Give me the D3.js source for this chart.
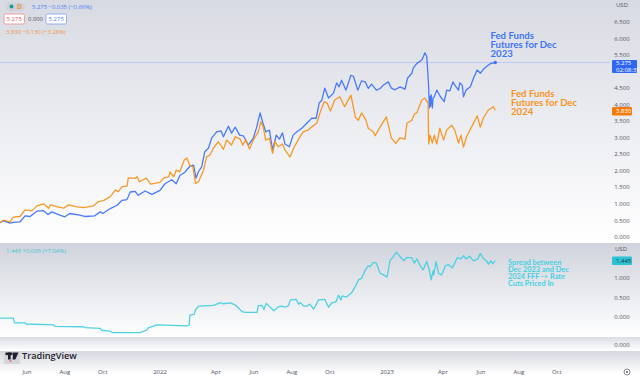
<!DOCTYPE html>
<html><head><meta charset="utf-8">
<script src="https://cdn.jsdelivr.net/npm/d3@7"></script>
<style>html,body{margin:0;padding:0;background:#fff}svg{display:block}text{font-family:"Open Sans",Roboto,sans-serif}</style>
</head><body><svg id="c" width="640" height="378"></svg>
<script>
// days counted from 1 Jan 2022
const blueDays=[-257,-252,-241,-236,-225,-217,-209,-198,-188,-180,-174,-161,-153,-145,-129,-121,-105,-96,-92,-80,-69,-61,-53,-48,-40,-35,-24,-13,0,8,19,26,32,40,48,54,58,62,67,72,78,83,91,98,102,110,115,121,128,134,142,150,155,161,165,170,176,181,187,192,197,201,208,214,220,228,236,244,251,256,260,265,271,279,284,288,292,299,307,311,318,324,330,335,340,348,354,359,367,372,378,386,394,398,405,407,413,421,426,429,432,433,434,435,436,438,439,441,445,451,457,461,466,471,474,480,482,486,488,492,499,504,510,515,520,526,532,539];
const blueValues=[.43,.49,.42,.44,.46,.64,.62,.78,.80,.68,.76,.66,.61,.71,.66,.62,.64,.76,.71,.86,.96,1.11,1.13,1.36,1.38,1.26,1.39,1.29,1.41,1.61,1.73,1.61,1.86,1.96,2.14,2.17,1.78,1.98,2.12,2.58,2.69,2.99,3.18,3.21,3.03,3.35,3.14,3.32,3.08,3.06,2.78,2.99,3.29,3.75,3.48,3.18,3.23,2.63,3.08,2.96,3.15,2.81,2.73,3.08,3.18,3.29,3.44,3.59,3.59,4.05,4.13,4.5,4.2,4.35,4.66,4.54,4.74,4.44,4.89,4.86,4.44,4.72,4.69,4.49,4.62,4.44,4.49,4.59,4.69,4.5,4.45,4.54,4.47,4.8,4.95,5.1,5.25,5.35,5.57,5.45,4.54,3.9,4.25,3.95,4.3,3.9,4.2,4.24,4.44,4.24,4.09,4.44,4.42,4.69,4.59,4.44,4.66,4.59,4.24,4.44,4.54,4.8,5.05,4.95,5.07,5.17,5.25,5.275];
const orangeDays=[-257,-252,-241,-236,-225,-217,-206,-198,-187,-179,-176,-166,-155,-147,-136,-123,-107,-99,-91,-80,-72,-67,-61,-53,-51,-40,-37,-33,-22,-15,0,6,14,16,22,26,32,39,43,48,53,57,62,70,75,80,86,94,102,107,115,121,129,133,138,144,150,158,162,166,170,176,181,185,190,197,201,209,215,222,230,238,244,252,257,264,269,274,281,289,297,307,314,319,324,331,335,343,346,354,364,372,379,386,394,397,405,409,413,421,426,431,432,434,438,441,445,450,456,461,469,474,480,484,488,493,501,510,515,520,528,536,539];
const orangeValues=[.43,.51,.46,.6,.62,.82,.79,.94,1,.87,.97,.92,.87,.97,.92,.89,.94,1.07,1.1,1.22,1.42,1.37,1.52,1.54,1.79,1.77,1.82,1.67,1.78,1.6,1.65,1.79,1.82,1.97,1.82,2.02,1.97,2.33,2.39,2.17,2.12,1.62,1.67,2.02,2.43,2.47,2.69,2.88,2.65,2.93,2.78,3.03,2.96,2.78,2.93,2.66,2.93,3.18,3.48,3.33,2.93,2.98,2.53,2.88,2.73,2.81,2.63,2.42,2.69,2.93,3.18,3.23,3.33,3.44,3.74,4.09,4.04,3.81,4.14,4.24,3.94,4.29,3.63,3.53,3.75,3.54,3.28,3.18,3.06,3.33,3.63,2.99,2.83,3,2.96,3.44,3.53,3.71,3.76,4.14,4.2,4.05,2.81,3.08,2.84,3.08,2.81,3.29,2.93,3.23,3.38,3.23,2.84,3.08,2.72,3.03,3.33,3.66,3.32,3.6,3.84,3.94,3.83];
const spreadDays=[-257,-236,-234,-217,-215,-171,-169,-123,-120,-96,-94,-80,-77,-32,-21,-18,-5,43,47,48,55,57,62,86,97,102,113,121,132,137,156,158,164,167,171,183,190,196,200,206,210,219,223,226,231,236,241,247,255,265,271,276,283,287,291,293,300,308,314,319,324,330,335,338,343,348,354,362,365,370,374,380,386,392,396,405,409,413,418,423,429,433,436,439,440,444,448,453,459,464,470,475,478,484,488,492,498,504,511,515,520,526,528,532,535,539];
const spreadValues=[-.03,-.03,-.15,-.15,-.18,-.2,-.24,-.25,-.27,-.29,-.34,-.36,-.4,-.4,-.33,-.27,-.2,-.23,-.2,.05,.07,.18,.28,.3,.37,.34,.36,.31,.14,.12,.12,.29,.3,.19,.35,.16,.26,.28,.25,.28,.44,.45,.33,.37,.28,.28,.33,.2,.44,.45,.25,.36,.39,.56,.44,.54,.51,.62,.78,.95,.99,1.2,1.31,1.29,1.4,1.38,1.12,1.06,1.02,1.46,1.52,1.66,1.55,1.44,1.52,1.52,1.38,1.49,1.33,1.21,1.42,1.21,.95,1.18,1.08,1.42,1.12,1.08,1.32,1.34,1.26,1.42,1.52,1.49,1.57,1.49,1.56,1.44,1.49,1.63,1.5,1.42,1.35,1.44,1.37,1.445];
const mainTicks=[6.5,6,5.5,4.5,4,3.5,3,2.5,2,1.5,1,.5,0];
const lowerTicks=[1,.5,0];
const timeTickDates=["2021-06-01","2021-08-01","2021-10-01","2022-01-01","2022-04-01","2022-06-01","2022-08-01","2022-10-01","2023-01-01","2023-04-01","2023-06-01","2023-08-01","2023-10-01"];
const timeTickLabels=["Jun","Aug","Oct","2022","Apr","Jun","Aug","Oct","2023","Apr","Jun","Aug","Oct"];
const blueNote=["Fed Funds","Futures for Dec","2023"];
const orangeNote=["Fed Funds","Futures for Dec","2024"];
const spreadNote=["Spread between","Dec 2023 and Dec","2024 FFF -> Rate","Cuts Priced In"];
const priceLast=5.275, orangeLast=3.83, spreadLast=1.445;

const BLUE="#3f74f8",ORANGE="#f7931e",TEAL="#45d0e2",AXIS="#50535e";
const svg=d3.select("#c");
const base=new Date(2022,0,1);
const toDate=d=>d3.timeDay.offset(base,d);
const x=d3.scaleTime().domain([new Date(2022,0,1),new Date(2023,0,1)]).range([160,387]);
const y=d3.scaleLinear().domain([0,6.5]).range([237,22]);
const y2=d3.scaleLinear().domain([0,1]).range([317,278]);
const fmt=d3.format(".3f");

// backgrounds
const defs=svg.append("defs");
function band(id,c,top,h,stopAt){
  const g=defs.append("linearGradient").attr("id",id).attr("x1",0).attr("x2",0).attr("y1",0).attr("y2",1);
  g.append("stop").attr("offset",0).attr("stop-color",c);
  g.append("stop").attr("offset",stopAt).attr("stop-color","#fff");
  svg.append("rect").attr("x",0).attr("y",top).attr("width",640).attr("height",h).attr("fill",`url(#${id})`);
}
band("b1","#d8dae3",0,243,1);
band("b2","#d0d3dc",243,94,1);
band("b3","#dcdde3",337,14,1);
band("b4","#d6d8df",351,27,.85);

// price line
svg.append("line").attr("x1",0).attr("x2",610).attr("y1",y(priceLast)).attr("y2",y(priceLast)).attr("stroke","#bccaf3").attr("stroke-width",1);

const line=d3.line().x(d=>x(toDate(d[0]))).y(d=>d[1]);
function draw(days,vals,sc,col){
  svg.append("path").datum(d3.zip(days,vals.map(sc))).attr("d",line).attr("fill","none").attr("stroke",col).attr("stroke-width",1.3).attr("stroke-linejoin","round").attr("opacity",.95);
}
draw(blueDays,blueValues,y,BLUE);
draw(orangeDays,orangeValues,y,ORANGE);
draw(spreadDays,spreadValues,y2,TEAL);
svg.append("circle").attr("cx",x(toDate(blueDays[blueDays.length-1]))).attr("cy",y(priceLast)).attr("r",1.8).attr("fill",BLUE);

// axes
const ax=(px,py,t,o={})=>svg.append("text").attr("x",px).attr("y",py).attr("dy","0.35em").attr("text-anchor",o.a||"middle").attr("font-size",o.s||6).attr("fill",o.f||AXIS).attr("font-weight",o.w||400).text(t);
ax(622,4.5,"USD");
mainTicks.forEach(t=>ax(622,y(t),fmt(t)));
ax(621,249,"USD");
lowerTicks.forEach(t=>ax(622,y2(t),fmt(t)));
ax(622,344.5,"0.000");
timeTickDates.forEach((d,i)=>ax(x(new Date(d+"T00:00:00")),372,timeTickLabels[i]));
svg.append("circle").attr("cx",627).attr("cy",372).attr("r",3).attr("fill","none").attr("stroke","#6a6d78").attr("stroke-width",.8);
svg.append("circle").attr("cx",627).attr("cy",372).attr("r",1).attr("fill","#6a6d78");

// price tags
function tag(ty,w,h,c,lines,tc){
  svg.append("rect").attr("x",612).attr("y",ty).attr("width",w).attr("height",h).attr("rx",1).attr("fill",c);
  lines.forEach((t,i)=>ax(616,ty+(h/lines.length)*(i+.5),t,{a:"start",f:tc,s:6}));
}
tag(60,25,13,"#2f66f6",[fmt(priceLast),"02:08:37"],"#fff");
tag(107,20,8.5,"#f57c0a",[fmt(orangeLast)],"#fff");
tag(256.5,20,8.5,"#2dc3d6",[fmt(spreadLast)],"#1c3a44");

// annotations
function note(lines,px,py,lh,size,col){
  lines.forEach((t,i)=>svg.append("text").attr("x",px).attr("y",py+i*lh).attr("dy","0.35em").attr("font-family","Lato").style("font-family","Lato").attr("font-size",size).attr("font-weight",700).attr("fill",col).text(t));
}
note(blueNote,490.5,35.5,9.3,9.6,BLUE);
note(orangeNote,511,93.5,9.3,9.6,ORANGE);
note(spreadNote,508,262,7.3,7.4,TEAL);

// legend
svg.append("rect").attr("x",6).attr("y",2.5).attr("width",19).attr("height",8.5).attr("rx",4.2).attr("fill","#cfd2da");
svg.append("circle").attr("cx",11.5).attr("cy",6.5).attr("r",2).attr("fill","#159a97");
ax(19.5,6.5,"D",{f:"#ee9438",s:6.5,w:700});
ax(32,6.5,"5.275  −0.035 (−0.66%)",{a:"start",f:"#4f7bf5",s:5.9});
function box(bx,w,c,t,tc){
  svg.append("rect").attr("x",bx).attr("y",14).attr("width",w).attr("height",10).attr("rx",1.5).attr("fill","#fff").attr("stroke",c).attr("stroke-width",.8);
  ax(bx+w/2,19,t,{f:tc,s:6});
}
box(4,20.5,"#ee8a92","5.275","#e0606c");
ax(35.5,19,"0.000",{f:"#50535e",s:5.8});
box(46,20.5,"#7d9cf5","5.275","#5a80f0");
ax(6,32,"3.830  −0.130 (−3.28%)",{a:"start",f:"#f0923a",s:5.9});
ax(6,251,"1.445  +0.095 (+7.04%)",{a:"start",f:"#3fc6d8",s:5.9});

// brand
svg.append("rect").attr("x",4).attr("y",351).attr("width",16).attr("height",13).attr("fill","#d4d5da");
svg.append("rect").attr("x",5.5).attr("y",352.5).attr("width",7).attr("height",2.6).attr("fill","#1e222d");
svg.append("rect").attr("x",8).attr("y",352.5).attr("width",2.6).attr("height",7).attr("fill","#1e222d");
svg.append("path").attr("d","M13 352.5h5.5l-3.2 7h-2.6z").attr("fill","#1e222d");
svg.append("circle").attr("cx",10.5).attr("cy",361).attr("r",1.1).attr("fill","#e5706a");
ax(22,356,"TradingView",{a:"start",f:"#1e222d",s:9.2,w:600});
</script></body></html>
